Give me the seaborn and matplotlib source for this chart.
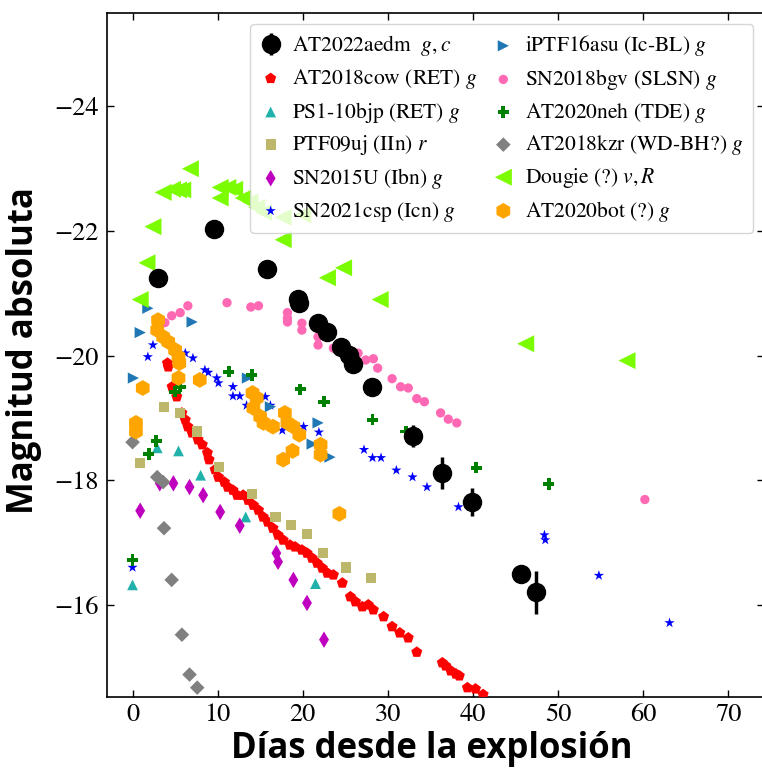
import numpy as np
import matplotlib
matplotlib.use('Agg')
import matplotlib.pyplot as plt
import seaborn as sns

# --- data (days since explosion, absolute mag) ---
aedm_t = [3.0, 9.6, 15.8, 19.5, 19.6, 21.8, 22.8, 24.5, 25.4, 25.9, 28.1, 32.9, 36.4, 39.9, 45.6, 47.4]
aedm_m = [-21.25, -22.03, -21.39, -20.91, -20.85, -20.52, -20.38, -20.14, -20.01, -19.87, -19.5,
          -18.71, -18.12, -17.65, -16.5, -16.2]
aedm_err = [0.05, 0.05, 0.05, 0.05, 0.05, 0.05, 0.05, 0.05, 0.05, 0.05, 0.05, 0.17, 0.26, 0.23, 0.05, 0.35]

cow_t = [4.1, 4.2, 4.65, 5.2, 5.8, 6.2, 6.5, 7.0, 7.7, 8.2, 8.8, 9.0, 9.7, 10.1, 10.8, 11.2, 11.8,
         12.3, 13.0, 13.6, 14.2, 14.8, 15.35, 15.9, 16.5, 17.1, 17.7, 18.5, 19.1, 19.9, 20.5, 21.1,
         21.7, 22.3, 22.9, 23.6, 24.65, 25.6, 26.2, 27.0, 27.7, 28.3, 29.5, 30.5, 31.4, 32.4, 33.4,
         36.4, 36.8, 37.4, 38.0, 38.4, 39.35, 40.3, 41.2]
cow_m = [-19.88, -19.82, -19.5, -19.34, -19.08, -18.97, -18.86, -18.76, -18.65, -18.57, -18.44,
         -18.33, -18.17, -18.05, -17.97, -17.89, -17.84, -17.76, -17.76, -17.68, -17.6, -17.52,
         -17.41, -17.33, -17.23, -17.12, -17.04, -16.96, -16.93, -16.88, -16.83, -16.75, -16.67,
         -16.59, -16.51, -16.48, -16.35, -16.13, -16.05, -15.97, -16.0, -15.92, -15.81, -15.65,
         -15.55, -15.47, -15.24, -15.07, -15.02, -14.94, -14.89, -14.86, -14.67, -14.65, -14.56]

ps1_t = [0.0, 2.9, 5.4, 8.0, 13.3, 21.5]
ps1_m = [-16.32, -18.52, -18.47, -18.08, -17.41, -16.34]

ptf_t = [0.9, 3.7, 5.6, 7.6, 10.2, 14.0, 16.8, 18.6, 20.5, 22.4, 25.1, 28.0]
ptf_m = [-18.28, -19.18, -19.08, -18.78, -18.21, -17.78, -17.41, -17.28, -17.14, -16.83, -16.6, -16.43]

sn15u_t = [0.9, 3.2, 4.8, 6.7, 8.3, 10.3, 12.6, 16.9, 17.1, 18.9, 20.5, 22.5]
sn15u_m = [-17.51, -17.95, -17.95, -17.89, -17.76, -17.49, -17.27, -16.83, -16.69, -16.4, -16.03, -15.44]

csp_t = [0.0, 1.8, 2.4, 6.2, 7.1, 8.5, 8.9, 9.9, 10.1, 11.8, 11.8, 12.6, 13.4, 15.6, 16.2, 17.6,
         20.1, 21.9, 27.2, 28.2, 29.2, 31.0, 32.9, 34.6, 38.3, 48.4, 48.5, 54.8, 63.1]
csp_m = [-16.6, -19.98, -20.17, -20.04, -19.96, -19.77, -19.73, -19.64, -19.56, -19.5, -19.35,
         -19.35, -19.2, -19.34, -19.2, -18.8, -18.86, -18.77, -18.49, -18.36, -18.36, -18.16,
         -18.05, -17.89, -17.57, -17.12, -17.04, -16.47, -15.71]

asu_t = [0.1, 0.9, 1.8, 7.0, 13.5, 16.2, 21.1, 21.8, 23.2]
asu_m = [-19.64, -20.37, -20.76, -20.54, -19.64, -19.18, -18.58, -18.92, -18.37]

bgv_t = [3.8, 4.6, 5.6, 6.5, 11.1, 13.9, 14.8, 18.2, 18.2, 18.2, 19.9, 19.9, 21.8, 21.8, 23.6,
         25.0, 26.5, 27.4, 28.3, 28.8, 30.5, 31.5, 32.4, 33.4, 34.3, 36.2, 37.1, 38.1, 60.2]
bgv_m = [-20.53, -20.64, -20.69, -20.8, -20.85, -20.78, -20.8, -20.69, -20.6, -20.54, -20.52,
         -20.41, -20.3, -20.17, -20.12, -20.09, -20.04, -19.93, -19.95, -19.8, -19.63, -19.5,
         -19.48, -19.31, -19.26, -19.08, -18.98, -18.92, -17.69]

neh_t = [0.0, 1.9, 2.8, 5.0, 5.6, 11.3, 14.0, 19.7, 22.5, 28.2, 32.1, 40.4, 48.9]
neh_m = [-16.72, -18.42, -18.63, -19.42, -19.5, -19.74, -19.69, -19.46, -19.26, -18.97, -18.78, -18.2, -17.94]

kzr_t = [0.0, 2.9, 3.6, 3.7, 4.6, 5.8, 6.7, 7.6]
kzr_m = [-18.61, -18.05, -17.97, -17.23, -16.4, -15.52, -14.88, -14.67]

dougie_t = [0.9, 1.7, 2.4, 3.6, 4.7, 5.4, 5.9, 6.8, 10.3, 11.2, 12.0, 10.3, 13.0, 13.8, 14.6,
            15.4, 17.7, 20.0, 17.7, 22.9, 24.8, 29.1, 46.2, 58.1]
dougie_m = [-20.9, -21.49, -22.07, -22.62, -22.67, -22.66, -22.66, -23.0, -22.7, -22.7, -22.67,
            -22.53, -22.53, -22.47, -22.38, -22.3, -22.22, -22.26, -21.86, -21.25, -21.41, -20.9,
            -20.19, -19.92]

bot_t = [0.4, 0.4, 1.2, 3.0, 2.9, 3.6, 4.2, 5.0, 5.4, 5.5, 5.4, 7.9, 14.1, 14.6, 14.2, 15.0, 15.4,
         16.5, 17.9, 18.2, 18.9, 19.6, 18.8, 17.7, 22.1, 22.1, 24.3]
bot_m = [-18.92, -18.78, -19.48, -20.57, -20.41, -20.3, -20.22, -20.09, -19.98, -19.88, -19.64,
         -19.61, -19.4, -19.32, -19.16, -19.02, -18.92, -18.86, -19.08, -18.92, -18.86, -18.73,
         -18.47, -18.33, -18.57, -18.41, -17.46]

# --- style ---
sns.set_style('ticks')
plt.rcParams['font.family'] = ['STIXGeneral', 'DejaVu Serif']
plt.rcParams['mathtext.fontset'] = 'stix'
for key in ['text.color', 'axes.labelcolor', 'xtick.color', 'ytick.color', 'axes.edgecolor']:
    plt.rcParams[key] = 'black'

fig = plt.figure(figsize=(7.62, 7.69), dpi=100)
ax = fig.add_axes([107 / 762, 1 - 697 / 769, 657 / 762, 684 / 769])

# comparison objects (name, x, y, marker, colour, size)
comparisons = [
    ('AT2018cow (RET) $g$', cow_t, cow_m, 'p', 'red', 70),
    ('PS1-10bjp (RET) $g$', ps1_t, ps1_m, '^', 'lightseagreen', 60),
    ('PTF09uj (IIn) $r$', ptf_t, ptf_m, 's', 'darkkhaki', 55),
    ('SN2015U (Ibn) $g$', sn15u_t, sn15u_m, 'd', 'm', 70),
    ('SN2021csp (Icn) $g$', csp_t, csp_m, '*', 'blue', 60),
    ('iPTF16asu (Ic-BL) $g$', asu_t, asu_m, '>', 'tab:blue', 65),
    ('SN2018bgv (SLSN) $g$', bgv_t, bgv_m, 'o', 'hotpink', 45),
    ('AT2020neh (TDE) $g$', neh_t, neh_m, 'P', 'green', 65),
    ('AT2018kzr (WD-BH?) $g$', kzr_t, kzr_m, 'D', 'grey', 55),
    ('Dougie (?) $v, R$', dougie_t, dougie_m, '<', 'lawngreen', 150),
    ('AT2020bot (?) $g$', bot_t, bot_m, 'h', 'orange', 130),
]

for name, t, m, mk, col, s in comparisons:
    sns.scatterplot(x=t, y=m, marker=mk, color=col, s=s, edgecolor='none',
                    label=name, ax=ax, zorder=3)

main_label = 'AT2022aedm  $g, c$'
ax.errorbar(aedm_t, aedm_m, yerr=aedm_err, fmt='o', color='black', ms=13,
            elinewidth=2.5, capsize=0, label=main_label, zorder=5)

ax.set_xlim(-3, 74.2)
ax.set_ylim(-14.52, -25.5)
ax.set_xticks(np.arange(0, 80, 10))
ax.set_yticks([-24, -22, -20, -18, -16])
ax.tick_params(direction='in', top=True, right=True, length=5, width=1,
               labelsize=19, labelfontfamily='STIXGeneral')
ax.tick_params(axis='x', pad=4)
ax.tick_params(axis='y', pad=6)
for sp in ax.spines.values():
    sp.set_linewidth(1.2)

ax.set_xlabel('Días desde la explosión', fontsize=25, fontweight='bold', family='Open Sans')
ax.set_ylabel('Magnitud absoluta', fontsize=25, fontweight='bold', family='Open Sans')
ax.xaxis.set_label_coords(0.494, -0.050)
ax.yaxis.set_label_coords(-0.099, 0.506)

handles, labels = ax.get_legend_handles_labels()
order = [labels.index(main_label)] + [i for i, l in enumerate(labels) if l != main_label]
ax.legend([handles[i] for i in order], [labels[i] for i in order], ncol=2,
          loc='upper right', fontsize=15.5, handletextpad=0.5, columnspacing=0.7,
          labelspacing=0.4, borderpad=0.45, handlelength=1.0)

fig.savefig('out.png', dpi=100)
